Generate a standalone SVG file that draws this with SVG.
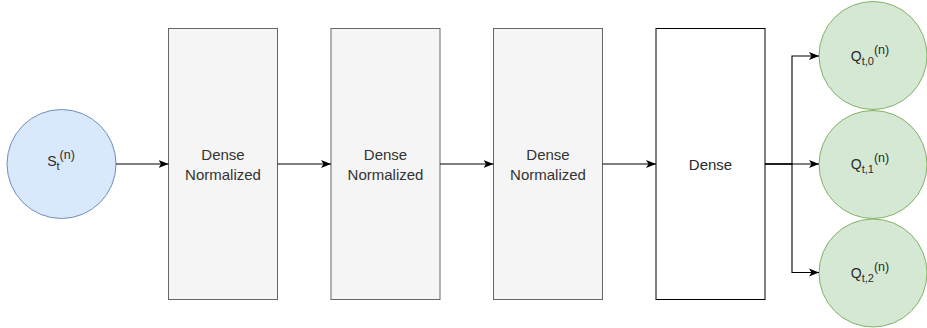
<svg xmlns="http://www.w3.org/2000/svg" width="927" height="328" viewBox="0 0 927 328">
  <style>
    .label { font-family: "Liberation Sans", Arial, Helvetica, sans-serif; text-anchor: middle; }
    .box-gray { fill: #f5f5f5; stroke: #666666; stroke-width: 1; }
    .box-white { fill: #ffffff; stroke: #000000; stroke-width: 1; }
    .in-node { fill: #dae8fc; stroke: #6c8ebf; stroke-width: 1; }
    .out-node { fill: #d5e8d4; stroke: #82b366; stroke-width: 1; }
    .gray-text { fill: #333333; font-size: 15px; }
    .dark-text { fill: #2a2a2a; }
    .edge { fill: none; stroke: #000000; stroke-width: 1.1; }
  </style>
  <defs>
    <marker id="arrow" markerUnits="userSpaceOnUse" markerWidth="12" markerHeight="10" refX="10" refY="4.5" orient="auto">
      <path d="M0,0.5 L10,4.5 L0,8.5 L2.5,4.5 Z" fill="#000000"/>
    </marker>
  </defs>

  <!-- input state -->
  <g id="state">
    <circle class="in-node" cx="61.5" cy="164" r="54.5"/>
    <text class="label dark-text" x="61" y="166" font-size="14">S<tspan font-size="11" dy="4">t</tspan><tspan font-size="12.5" dy="-11.5">(n)</tspan></text>
  </g>

  <!-- hidden layers -->
  <g id="dense1">
    <rect class="box-gray" x="168.5" y="28.5" width="109" height="271"/>
    <text class="label gray-text" x="223" y="160">Dense</text>
    <text class="label gray-text" x="223" y="180">Normalized</text>
  </g>
  <g id="dense2">
    <rect class="box-gray" x="331" y="28.5" width="109" height="271"/>
    <text class="label gray-text" x="385.5" y="160">Dense</text>
    <text class="label gray-text" x="385.5" y="180">Normalized</text>
  </g>
  <g id="dense3">
    <rect class="box-gray" x="493.5" y="28.5" width="109" height="271"/>
    <text class="label gray-text" x="548" y="160">Dense</text>
    <text class="label gray-text" x="548" y="180">Normalized</text>
  </g>
  <g id="dense-out">
    <rect class="box-white" x="656" y="28.5" width="109" height="271"/>
    <text class="label dark-text" x="710.5" y="169.5" font-size="15">Dense</text>
  </g>

  <!-- action values -->
  <g id="q0">
    <circle class="out-node" cx="873" cy="55.5" r="54"/>
    <text class="label dark-text" x="870" y="61" font-size="14">Q<tspan font-size="11" dy="4">t,0</tspan><tspan font-size="12.5" dy="-11.5">(n)</tspan></text>
  </g>
  <g id="q1">
    <circle class="out-node" cx="873" cy="164.5" r="54"/>
    <text class="label dark-text" x="870" y="169" font-size="14">Q<tspan font-size="11" dy="4">t,1</tspan><tspan font-size="12.5" dy="-11.5">(n)</tspan></text>
  </g>
  <g id="q2">
    <circle class="out-node" cx="873" cy="273" r="54"/>
    <text class="label dark-text" x="870" y="278" font-size="14">Q<tspan font-size="11" dy="4">t,2</tspan><tspan font-size="12.5" dy="-11.5">(n)</tspan></text>
  </g>

  <!-- connectors -->
  <g id="edges">
    <path class="edge" d="M116,164 H168.5" marker-end="url(#arrow)"/>
    <path class="edge" d="M277.5,164 H331" marker-end="url(#arrow)"/>
    <path class="edge" d="M440,164 H493.5" marker-end="url(#arrow)"/>
    <path class="edge" d="M602.5,164 H656" marker-end="url(#arrow)"/>
    <path class="edge" d="M765,164 H819" marker-end="url(#arrow)"/>
    <path class="edge" d="M765,164 H792 V56 H819" marker-end="url(#arrow)"/>
    <path class="edge" d="M765,164 H792 V272.5 H819" marker-end="url(#arrow)"/>
  </g>
</svg>
